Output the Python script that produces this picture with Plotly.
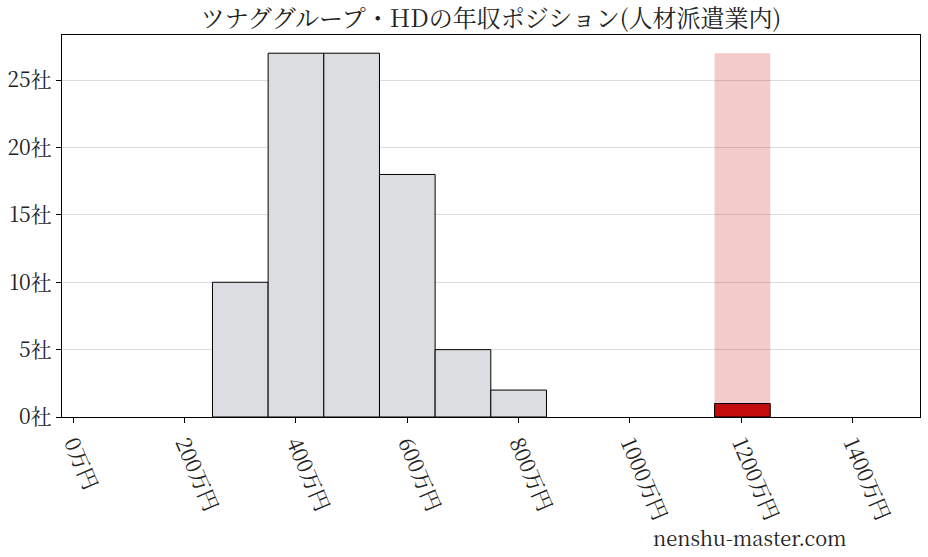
import plotly.graph_objects as go

# 年収の分布（人材派遣業内）
bin_lefts = [250, 350, 450, 550, 650, 750]
counts = [10, 27, 27, 18, 5, 2]
bin_width = 100

# ツナググループ・HDの位置
own_left = 1152
own_count = 1

x_ticks = [0, 200, 400, 600, 800, 1000, 1200, 1400]
y_ticks = [0, 5, 10, 15, 20, 25]

title = "ツナググループ・HDの年収ポジション(人材派遣業内)"
font_family = "Noto Serif CJK JP, Liberation Serif, DejaVu Serif, Noto Sans CJK JP, serif"

centers = [b + bin_width / 2 for b in bin_lefts]
own_center = own_left + bin_width / 2

fig = go.Figure()
# ハイライト帯
fig.add_trace(go.Bar(x=[own_center], y=[max(counts)], width=bin_width,
                     marker=dict(color="rgba(200,20,20,0.22)", line=dict(width=0)),
                     hoverinfo="skip"))
fig.add_trace(go.Bar(x=centers, y=counts, width=bin_width,
                     marker=dict(color="#dcdde0", line=dict(color="black", width=1))))
fig.add_trace(go.Bar(x=[own_center], y=[own_count], width=bin_width,
                     marker=dict(color="#c30d0d", line=dict(color="black", width=1))))

fig.update_layout(
    width=928, height=557,
    margin=dict(l=62, r=8, t=35, b=140, autoexpand=False),
    barmode="overlay",
    showlegend=False,
    plot_bgcolor="white",
    paper_bgcolor="white",
    font=dict(family=font_family, size=21, color="#222"),
    title=dict(text=title, x=0.529, xanchor="center", y=0.967, yanchor="middle",
               font=dict(size=24, color="#222")),
)
fig.update_xaxes(
    range=[-20.3, 1521], tickvals=x_ticks,
    ticktext=[f"{v}万円" for v in x_ticks],
    tickangle=67, ticks="outside", ticklen=5, tickcolor="black",
    showline=True, linecolor="black", linewidth=1, mirror=True,
    showgrid=False, zeroline=False, automargin=False,
)
fig.update_yaxes(
    range=[0, 28.35], tickvals=y_ticks,
    ticktext=[f"{v}社" for v in y_ticks],
    ticks="outside", ticklen=5, tickcolor="black",
    showline=True, linecolor="black", linewidth=1, mirror=True,
    showgrid=True, gridcolor="#dddddd", gridwidth=1, zeroline=False,
    automargin=False,
)
fig.add_annotation(text="nenshu-master.com", xref="paper", yref="paper",
                   x=0.917, y=-0.316, xanchor="right", yanchor="middle",
                   showarrow=False, font=dict(size=20, color="#222"))

# ページの余白をなくす
fig.write_html("out.html", config={"displayModeBar": False},
               post_script="document.body.style.margin='0';")
